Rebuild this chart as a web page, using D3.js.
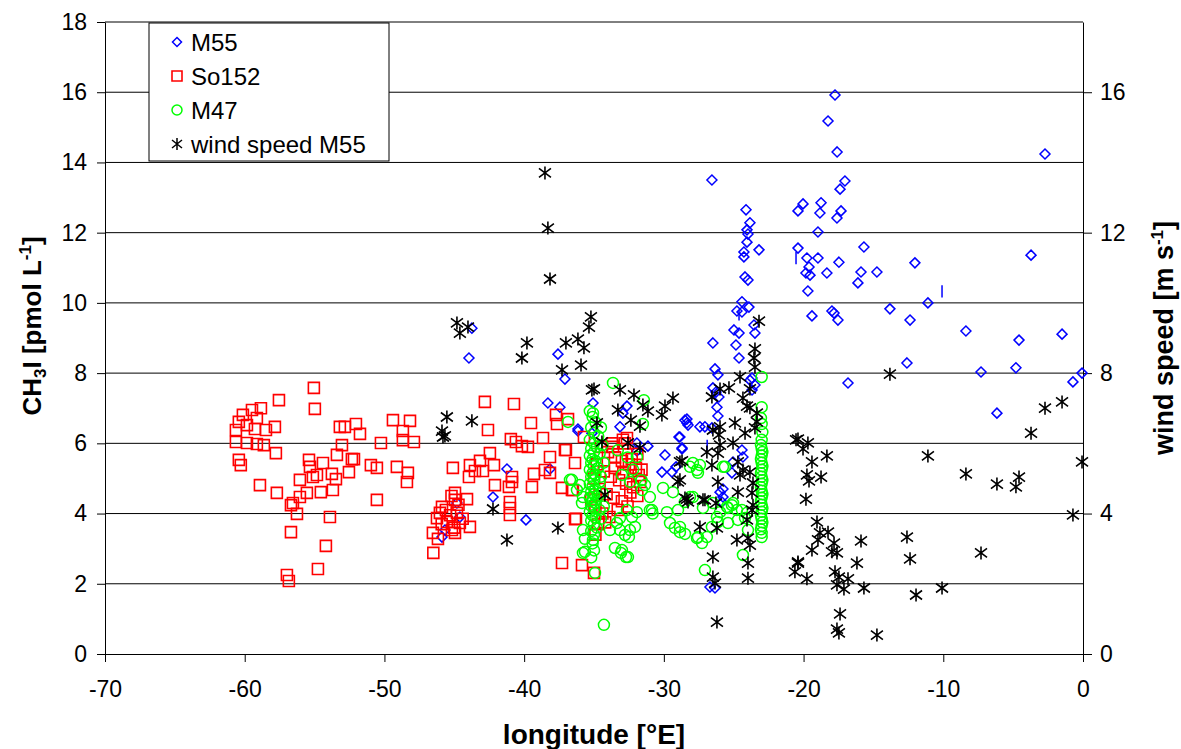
<!DOCTYPE html>
<html>
<head>
<meta charset="utf-8">
<script src="https://cdn.jsdelivr.net/npm/d3@7"></script>
<style>
  body { margin: 0; background: #fff; }
  text { font-family: "Liberation Sans", Arial, sans-serif; }
</style>
</head>
<body>
<svg width="1181" height="749"></svg>
<script>
// tick labels
const xTicks = [-70, -60, -50, -40, -30, -20, -10, 0];
const yLeftTicks = [0, 2, 4, 6, 8, 10, 12, 14, 16, 18];
const yRightTicks = [0, 4, 8, 12, 16];
const seriesNames = ["M55", "So152", "M47", "wind speed M55"];

// M55 CH3I [lon, pmol/L]
const m55 = [
  [-17.75,15.92],[-18.25,15.18],[-17.6,14.3],[-2.72,14.24],[-17.04,13.47],[-17.39,13.24],[-20.04,12.82],
  [-20.4,12.62],[-18.75,12.85],[-18.83,12.56],[-17.32,12.62],[-17.61,12.42],[-18.97,12.02],[-20.4,11.56],
  [-15.68,11.59],[-19.76,11.28],[-18.97,11.28],[-17.47,11.16],[-19.61,11.02],[-19.83,10.85],[-19.54,10.79],
  [-18.33,10.85],[-15.89,10.88],[-14.75,10.88],[-16.11,10.57],[-12.03,11.14],[-3.72,11.36],[-19.69,10.34],
  [-19.4,9.63],[-17.97,9.77],[-17.82,9.71],[-17.54,9.51],[-13.82,9.83],[-12.38,9.51],[-11.1,10.0],
  [-8.38,9.2],[-4.58,8.94],[-1.5,9.11],[-16.82,7.72],[-12.6,8.29],[-7.3,8.03],[-4.8,8.15],[-6.16,6.86],
  [-0.72,7.75],[-0.07,8.0],
  [-26.56,13.5],[-24.12,12.65],[-23.84,12.28],[-24.05,12.08],[-23.98,11.96],[-24.05,11.73],[-23.19,11.51],
  [-24.27,11.45],[-24.27,11.31],[-24.19,10.74],[-23.98,10.65],[-24.41,10.03],[-24.77,9.77],[-24.41,9.74],
  [-23.91,9.88],[-23.55,9.37],[-23.48,9.14],[-24.98,9.23],[-24.62,9.14],[-26.49,8.86],[-24.84,8.8],
  [-24.62,8.43],[-26.34,8.12],[-26.13,7.95],[-26.49,7.58],[-26.27,7.46],[-26.06,7.32],[-26.2,7.03],
  [-23.84,7.8],[-23.48,7.66],[-23.69,7.52],[-23.69,7.86],[-26.13,6.78],[-28.35,6.69],[-28.27,6.52],
  [-27.42,6.47],[-27.06,6.47],[-26.56,6.44],[-28.85,6.18],[-28.7,5.87],[-24.41,5.81],[-24.34,5.61],
  [-25.05,5.47],[-25.13,5.16],[-25.98,4.61],[-25.77,4.47],[-25.84,4.33],[-25.77,4.7],[-26.7,1.91],
  [-37.08,7.83],[-35.07,7.15],[-32.64,7.06],[-32.93,6.86],[-33.14,6.47],[-36.15,6.41],[-35.15,6.29],
  [-31.93,6.01],[-31.14,5.92],[-28.92,6.18],[-28.49,6.66],[-28.35,6.58],[-28.7,5.84],[-29.92,5.67],
  [-30.14,5.18],[-29.42,5.18],[-29.13,5.33],[-31.93,5.78],[-26.34,1.88],
  [-43.74,9.28],[-43.95,8.43],[-37.58,8.54],[-38.3,7.15],[-37.44,7.03],[-36.15,6.35],[-41.23,5.27],
  [-38.15,5.27],[-42.23,4.47],[-39.87,3.82],[-44.81,4.3],[-45.88,3.33],[-45.67,3.53],[-44.6,3.9]
];
// short vertical marks in the M55 series [lon, from, to]
const m55Bars = [[-20.54,11.1,11.45],[-10.09,10.15,10.5],[-24.62,9.5,9.8],[-26.9,5.8,6.1]];

// So152 CH3I
const so152 = [
  [-55.05,7.58],[-54.98,6.98],[-57.55,7.23],[-59.48,6.95],[-58.84,7.0],[-60.13,6.81],[-60.42,6.61],
  [-59.13,6.72],[-60.63,6.38],[-59.84,6.52],[-59.27,6.41],[-58.48,6.38],[-57.84,6.47],[-60.63,6.04],
  [-59.84,6.01],[-59.13,5.98],[-58.63,5.95],[-57.77,5.72],[-60.42,5.53],[-60.28,5.38],[-58.91,4.81],
  [-57.7,4.59],[-56.69,3.47],[-56.98,2.25],[-56.84,2.08],[-54.76,2.42],[-54.19,3.08],[-53.9,3.9],
  [-56.69,4.24],[-56.26,3.99],[-56.55,4.3],[-56.05,4.47],[-56.05,4.96],[-55.55,4.59],[-54.55,4.61],
  [-53.69,4.67],[-55.4,5.53],[-55.33,5.33],[-54.4,5.44],[-54.83,5.1],[-55.12,5.04],[-53.76,5.13],
  [-53.47,4.98],[-53.4,5.67],[-53.04,5.95],[-52.54,5.18],[-52.33,5.55],[-52.18,5.55],[-53.19,6.47],
  [-52.83,6.47],[-52.04,6.55],[-51.75,6.27],[-50.97,5.38],[-50.54,5.3],[-50.25,6.01],[-50.54,4.39],
  [-49.39,6.66],[-49.11,5.33],
  [-48.17,6.64],[-48.68,6.35],[-48.68,6.09],[-47.89,6.04],[-48.32,5.16],[-48.39,4.9],[-42.81,7.18],
  [-40.73,7.12],[-42.59,6.38],[-39.51,6.58],[-40.95,6.12],[-40.59,6.04],[-40.16,5.92],[-39.73,5.9],
  [-38.65,6.15],[-37.72,6.81],[-37.65,6.55],[-37.08,5.81],[-36.36,5.44],[-38.15,5.61],[-38.15,5.16],
  [-42.45,5.72],[-43.16,5.5],[-43.88,5.38],[-42.16,5.38],[-43.52,5.21],[-45.1,5.3],[-42.95,5.21],
  [-43.95,5.04],[-42.09,4.81],[-40.87,5.04],[-40.87,4.9],[-41.09,4.76],[-39.44,4.76],[-39.3,5.13],
  [-38.51,5.24],[-37.29,4.73],[-36.58,4.67],[-41.02,4.33],[-41.02,4.16],[-41.02,3.96],[-44.09,4.41],
  [-45.88,4.19],[-44.95,4.59],[-44.95,4.39],[-46.24,3.87],[-46.03,4.02],[-45.53,3.76],[-44.81,4.02],
  [-44.6,3.73],[-45.17,3.53],[-44.95,3.45],[-43.88,3.62],[-46.53,3.45],[-46.17,3.28],[-46.5,2.88],
  [-45.6,4.1],[-45.3,3.95],[-44.7,4.25],[-45.9,3.7],[-45.0,3.6],[-44.4,3.85],[-45.2,4.5],
  [-37.29,2.59],[-35.86,2.53],[-35.0,2.31],[-36.36,3.84],
  [-36.86,6.69],[-37.01,5.81],[-35.72,6.18],[-32.64,6.15],[-33.64,5.9],[-36.51,4.67],[-36.29,3.85],
  [-34.5,5.9],[-34.0,5.75],[-33.5,5.6],[-33.0,5.5],[-32.5,5.4],[-32.0,5.3],[-31.8,5.1],[-34.8,5.4],
  [-34.3,5.2],[-33.8,5.05],[-33.2,4.95],[-32.7,4.85],[-32.2,4.75],[-31.7,4.9],[-34.6,4.7],[-34.1,4.55],
  [-33.6,4.45],[-33.0,4.35],[-32.4,4.6],[-31.9,4.5],[-34.9,4.2],[-34.4,4.0],[-33.9,3.9],[-33.3,4.1],
  [-32.6,4.2],[-34.7,3.7],[-34.2,3.75],[-35.0,5.0],[-35.2,4.4],[-34.9,3.4],[-33.5,5.3],[-32.9,5.15],
  [-32.3,5.55],[-31.6,5.25],[-33.7,6.0],[-32.8,6.0],[-31.9,5.7],[-32.93,6.1]
];

// M47 CH3I
const m47 = [
  [-35.3,6.92],[-35.1,6.75],[-34.9,6.6],[-35.2,6.45],[-35.0,6.3],[-34.7,6.2],[-35.3,6.1],[-35.0,6.0],
  [-34.8,5.9],[-35.2,5.85],[-35.0,5.75],[-34.6,5.7],[-35.3,5.65],[-35.1,5.55],[-34.9,5.5],[-35.2,5.45],
  [-35.0,5.35],[-34.7,5.3],[-35.3,5.25],[-35.1,5.15],[-34.9,5.1],[-35.2,5.05],[-35.0,4.95],[-34.6,4.9],
  [-35.3,4.85],[-35.1,4.78],[-34.9,4.7],[-35.2,4.62],[-35.0,4.55],[-34.7,4.5],[-35.3,4.45],[-35.1,4.38],
  [-34.9,4.3],[-35.2,4.22],[-35.0,4.15],[-34.6,4.1],[-35.3,4.05],[-35.1,3.95],[-34.9,3.88],[-35.2,3.8],
  [-35.0,3.7],[-34.8,3.6],[-35.2,3.5],[-35.0,3.4],[-35.1,3.15],[-35.0,2.95],[-35.2,2.75],[-34.5,6.45],
  [-34.4,5.95],[-34.3,5.45],[-34.5,5.05],[-34.4,4.6],[-34.3,4.2],[-34.5,3.85],
  [-23.0,7.89],[-23.0,7.03],[-23.05,6.72],[-23.0,6.55],[-22.95,6.32],[-23.0,6.1],[-23.05,5.95],
  [-23.0,5.85],[-22.95,5.75],[-23.0,5.65],[-23.05,5.55],[-23.0,5.45],[-22.95,5.35],[-23.0,5.25],
  [-23.05,5.15],[-23.0,5.05],[-22.95,4.95],[-23.0,4.85],[-23.05,4.75],[-23.0,4.65],[-22.95,4.55],
  [-23.0,4.45],[-23.05,4.35],[-23.0,4.25],[-22.95,4.15],[-23.0,4.05],[-23.05,3.95],[-23.0,3.85],
  [-22.95,3.75],[-23.0,3.65],[-23.05,3.55],[-23.0,3.45],[-23.0,3.33],
  [-33.64,7.72],[-36.86,6.61],[-35.07,6.86],[-31.43,7.23],[-31.5,6.55],[-31.93,5.61],[-36.72,4.96],
  [-36.01,4.81],[-31.35,4.81],[-31.57,4.67],[-31.0,4.47],[-30.85,4.1],[-30.06,4.73],[-29.35,4.61],
  [-29.78,4.04],[-28.99,4.1],[-28.13,4.47],[-27.92,5.44],[-27.63,5.24],[-27.42,5.38],[-28.13,5.33],
  [-25.63,5.33],[-25.48,4.19],[-25.05,4.3],[-24.77,4.1],[-26.2,3.9],[-26.13,3.76],[-26.56,3.62],
  [-25.98,4.04],[-29.56,3.73],[-29.21,3.59],[-28.85,3.47],[-28.49,3.42],[-27.63,3.3],[-27.27,3.16],
  [-32.64,4.1],[-31.93,4.04],[-32.28,3.9],[-33.14,3.87],[-33.36,3.73],[-32.78,3.39],[-32.43,3.53],
  [-33.0,2.96],[-32.57,2.76],[-33.5,3.02],[-33.86,3.53],[-35.07,3.25],[-35.65,2.91],[-34.93,2.31],
  [-27.06,2.39],[-24.34,2.82],[-34.29,0.83],
  [-27.56,5.16],[-25.77,5.33],[-27.92,4.47],[-28.49,4.33],[-27.2,4.16],[-26.49,4.3],[-25.41,4.16],
  [-25.13,4.24],[-24.41,4.1],[-24.05,4.02],[-24.19,3.87],[-25.41,3.73],[-24.7,3.82],[-28.85,3.62],
  [-27.56,3.33],[-26.92,3.33],[-23.98,3.53],
  [-36.58,4.96],[-36.22,4.67],[-35.79,4.47],[-35.86,4.3],[-35.79,3.53],[-35.65,3.28],[-35.79,2.88],
  [-33.07,2.88],[-32.71,2.76],[-32.5,3.33],[-33.14,3.53],[-32.07,3.62],
  [-32.6,5.6],[-32.2,5.25],[-31.6,4.95],[-33.3,5.8],[-33.0,5.1],[-32.4,4.9],[-31.0,4.1],[-30.8,4.0]
];

// M55 wind speed [lon, m/s]
const wind = [
  [-13.82,7.97],[-1.5,7.18],[-2.72,7.0],[-3.72,6.29],[-0.07,5.47],[-0.72,3.96],[-20.4,6.12],[-19.69,6.01],
  [-20.04,5.84],[-19.4,5.47],[-18.33,5.64],[-19.76,5.1],[-19.61,4.93],[-18.75,5.04],[-19.83,4.41],
  [-11.1,5.64],[-8.38,5.13],[-6.16,4.84],[-4.8,4.76],[-4.58,5.04],[-19.04,3.76],[-18.25,3.47],
  [-18.83,3.45],[-18.97,3.25],[-19.4,2.96],[-17.82,3.16],[-17.97,2.91],[-17.61,2.88],[-15.89,3.22],
  [-12.6,3.33],[-7.3,2.88],[-20.4,2.62],[-20.62,2.34],[-16.18,2.59],[-12.38,2.71],[-19.76,2.14],
  [-17.75,2.34],[-17.47,2.19],[-16.82,2.14],[-17.61,1.97],[-17.11,1.85],[-15.68,1.88],[-11.95,1.68],
  [-10.09,1.88],[-17.39,1.14],[-17.61,0.71],[-17.47,0.6],[-14.75,0.54],[-20.54,6.1],[-20.4,2.59],
  [-23.19,9.48],[-23.48,8.69],[-23.55,8.43],[-23.48,8.17],[-24.55,7.89],[-25.34,7.58],[-25.98,7.55],
  [-23.84,7.55],[-26.56,7.32],[-24.34,7.29],[-24.05,7.06],[-23.84,7.01],[-23.34,6.86],[-23.34,6.61],
  [-24.91,6.58],[-26.49,6.38],[-25.98,6.47],[-23.48,6.44],[-26.06,6.24],[-24.19,6.29],[-25.05,6.01],
  [-25.98,5.95],[-26.92,5.75],[-26.13,5.72],[-28.85,5.47],[-26.56,5.38],[-24.7,5.47],[-24.34,5.24],
  [-24.55,5.1],[-23.84,5.18],[-28.85,4.96],[-26.13,4.9],[-23.62,4.87],[-23.69,4.59],[-24.7,4.61],
  [-28.35,4.41],[-27.2,4.39],[-26.27,4.3],[-23.62,4.24],[-23.69,4.1],[-24.05,3.82],[-27.42,3.62],
  [-26.2,3.59],[-24.77,3.25],[-23.98,3.3],[-23.84,3.1],[-26.49,2.76],[-23.98,2.59],[-23.98,2.16],
  [-26.49,2.19],[-26.34,2.02],[-26.2,0.91],
  [-37.01,8.86],[-36.15,8.97],[-35.72,8.72],[-35.93,8.23],[-37.29,8.09],[-35.15,7.52],[-33.14,7.52],
  [-32.14,7.38],[-33.29,6.95],[-31.5,7.09],[-31.14,6.92],[-30.14,6.81],[-29.92,7.06],[-29.35,7.29],
  [-32.36,6.66],[-31.71,6.49],[-34.79,6.58],[-34.43,6.04],[-32.57,6.01],[-31.71,5.87],[-28.7,5.5],
  [-28.99,4.9],[-28.49,4.44],[-28.27,4.33],[-27.06,4.39],[-34.22,4.53],[-37.58,3.59],
  [-44.81,9.43],[-44.6,9.14],[-44.02,9.31],[-35.22,9.6],[-35.36,9.31],[-39.8,8.86],[-40.16,8.43],
  [-35.0,7.55],[-45.53,6.75],[-43.74,6.64],[-45.88,6.35],[-45.67,6.21],[-45.81,6.18],[-42.23,4.13],
  [-41.23,3.25],[-38.51,13.7],[-38.3,12.13],[-38.15,10.68]
];

const svg = d3.select("svg");
const margin = {top: 22, right: 98, bottom: 95, left: 105};
const width = +svg.attr("width") - margin.left - margin.right;
const height = +svg.attr("height") - margin.top - margin.bottom;
const g = svg.append("g").attr("transform", "translate(" + margin.left + "," + margin.top + ")");

const x = d3.scaleLinear().domain([-70, 0]).range([0, width]);
const y = d3.scaleLinear().domain([0, 18]).range([height, 0]);

// horizontal grid
g.append("g").selectAll("line").data(yLeftTicks.filter(d => d > 0)).join("line")
    .attr("x1", 0).attr("x2", width)
    .attr("y1", d => y(d)).attr("y2", d => y(d))
    .attr("stroke", "#000").attr("stroke-width", 1);

function styleAxis(sel) {
  sel.selectAll("text").attr("font-size", 23).attr("fill", "#000")
     .attr("font-family", "'Liberation Sans', Arial, sans-serif");
  sel.selectAll("line,path").attr("stroke", "#000");
}
const plain = d => String(d);

g.append("g")
    .call(d3.axisLeft(y).tickValues(yLeftTicks).tickFormat(plain).tickSize(8).tickSizeOuter(0).tickPadding(10))
    .call(styleAxis);
g.append("g")
    .attr("transform", "translate(" + width + ",0)")
    .call(d3.axisRight(y).tickValues(yRightTicks).tickFormat(plain).tickSize(9).tickSizeOuter(0).tickPadding(8))
    .call(styleAxis);
g.append("g")
    .attr("transform", "translate(0," + height + ")")
    .call(d3.axisBottom(x).tickValues(xTicks).tickFormat(plain).tickSize(8).tickSizeOuter(0).tickPadding(19))
    .call(styleAxis);

// axis titles
g.append("text")
    .attr("x", x(-35)).attr("y", height + 90)
    .attr("text-anchor", "middle").attr("font-size", 28).attr("font-weight", "bold")
    .text("longitude [°E]");

const leftTitle = g.append("text")
    .attr("transform", "translate(" + (-margin.left + 41) + "," + (height / 2 - 12) + ") rotate(-90)")
    .attr("text-anchor", "middle").attr("font-size", 26).attr("font-weight", "bold");
leftTitle.append("tspan").text("CH");
leftTitle.append("tspan").attr("font-size", 17).attr("dy", 5).text("3");
leftTitle.append("tspan").attr("dy", -5).text("I [pmol L");
leftTitle.append("tspan").attr("font-size", 17).attr("dy", -10).text("-1");
leftTitle.append("tspan").attr("dy", 10).text("]");

const rightTitle = g.append("text")
    .attr("transform", "translate(" + (width + 90) + "," + (height / 2) + ") rotate(-90)")
    .attr("text-anchor", "middle").attr("font-size", 27).attr("font-weight", "bold");
rightTitle.append("tspan").text("wind speed [m s");
rightTitle.append("tspan").attr("font-size", 17).attr("dy", -10).text("-1");
rightTitle.append("tspan").attr("dy", 10).text("]");

// marker shapes
const diamond = "M0,-5L5,0L0,5L-5,0Z";
const square = "M-5.5,-5.5H5.5V5.5H-5.5Z";
const star = "M0,-6.5V6.5M-6,-4.5L6,4.5M-6,4.5L6,-4.5";

function drawPoints(data, shape, color, width) {
  g.append("g").selectAll("path").data(data).join("path")
      .attr("transform", d => "translate(" + x(d[0]) + "," + y(d[1]) + ")")
      .attr("d", shape)
      .attr("fill", "none").attr("stroke", color).attr("stroke-width", width);
}

drawPoints(m55, diamond, "#0000ff", 1.5);
g.append("g").selectAll("line").data(m55Bars).join("line")
    .attr("x1", d => x(d[0])).attr("x2", d => x(d[0]))
    .attr("y1", d => y(d[1])).attr("y2", d => y(d[2]))
    .attr("stroke", "#0000ff").attr("stroke-width", 1.5);
drawPoints(so152, square, "#ff0000", 1.6);
g.append("g").selectAll("circle").data(m47).join("circle")
    .attr("cx", d => x(d[0])).attr("cy", d => y(d[1])).attr("r", 5.5)
    .attr("fill", "none").attr("stroke", "#00ff00").attr("stroke-width", 1.5);
drawPoints(wind, star, "#000", 1.6);

// legend
const legend = g.append("g").attr("transform", "translate(44,1)");
legend.append("rect").attr("width", 240).attr("height", 138)
    .attr("fill", "#fff").attr("stroke", "#000").attr("stroke-width", 1);
const items = legend.selectAll("g.item").data(seriesNames).join("g")
    .attr("class", "item")
    .attr("transform", (d, i) => "translate(28," + (19 + i * 34) + ")");
items.append("text").attr("x", 14).attr("dy", "0.36em").attr("font-size", 24).text(d => d);
items.each(function(d, i) {
  const s = d3.select(this);
  if (i === 0) s.append("path").attr("d", "M0,-4.5L4.5,0L0,4.5L-4.5,0Z").attr("fill", "none").attr("stroke", "#0000ff").attr("stroke-width", 1.5);
  if (i === 1) s.append("path").attr("d", "M-5,-5H5V5H-5Z").attr("fill", "none").attr("stroke", "#ff0000").attr("stroke-width", 1.6);
  if (i === 2) s.append("circle").attr("r", 5).attr("fill", "none").attr("stroke", "#00ff00").attr("stroke-width", 1.5);
  if (i === 3) s.append("path").attr("d", "M0,-6V6M-5,-4L5,4M-5,4L5,-4").attr("fill", "none").attr("stroke", "#000").attr("stroke-width", 1.5);
});
</script>
</body>
</html>
